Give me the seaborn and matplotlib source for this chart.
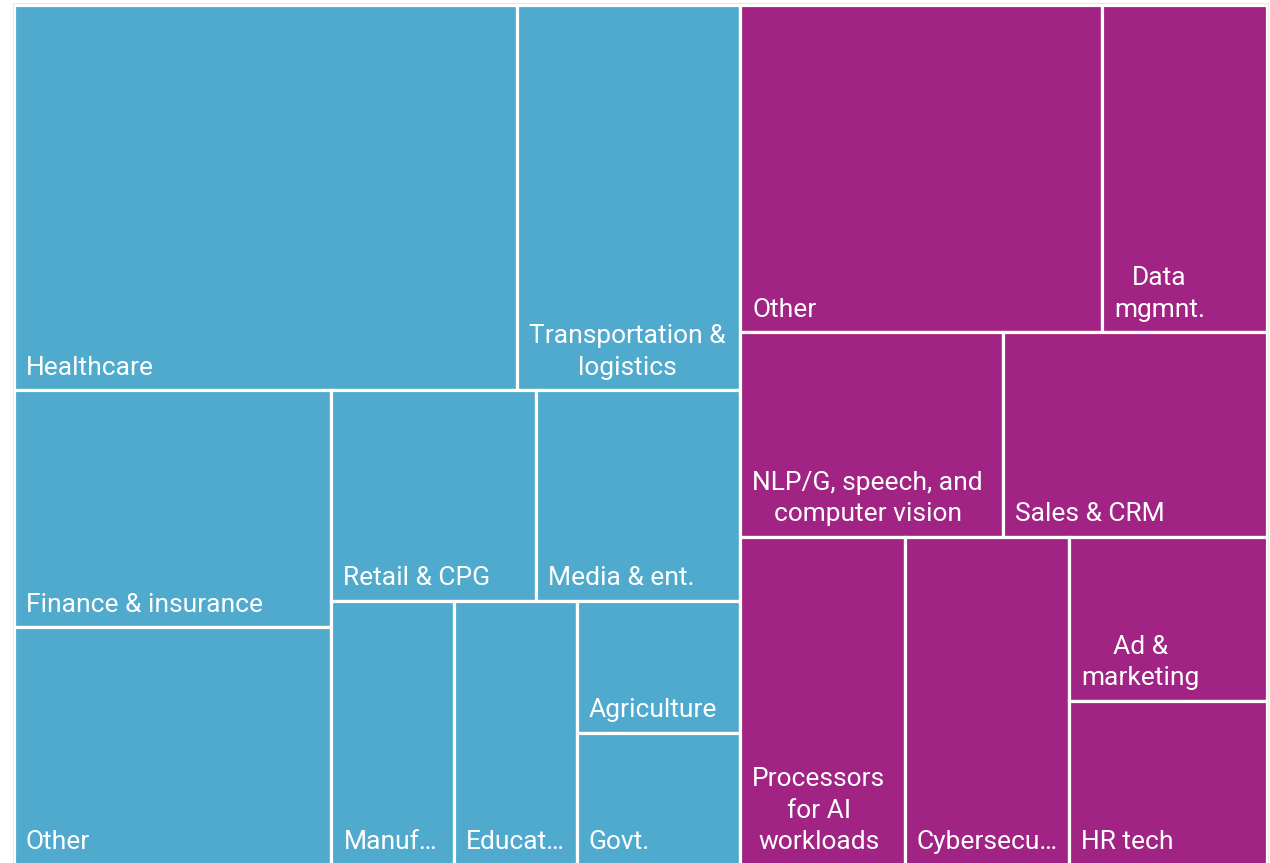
import matplotlib
matplotlib.use("Agg")
import matplotlib.pyplot as plt
from matplotlib.patches import Rectangle
import seaborn as sns

# ---- data (shares, %) ----
industry_labels = ["Healthcare", "Transportation &\nlogistics", "Finance & insurance", "Other",
                   "Retail & CPG", "Media & ent.", "Manuf…", "Educat…", "Agriculture", "Govt."]
industry_values = [18, 8, 7, 7, 4, 4, 3, 3, 2, 2]
industry_rows = [2, 2, 2, 1, 1, 1, 1]          # how many items go in each treemap strip

tech_labels = ["Other", "Data\nmgmnt.", "NLP/G, speech, and\ncomputer vision", "Sales & CRM",
               "Processors\nfor AI\nworkloads", "Cybersecu…", "Ad &\nmarketing", "HR tech"]
tech_values = [11, 5, 5, 5, 5, 5, 3, 3]
tech_rows = [2, 2, 1, 1, 1, 1]

group_values = [sum(industry_values), sum(tech_values)]
group_colors = ["#4FAACE", "#A12383"]

sns.set_theme(style="white")
plt.rcParams["font.family"] = ["Roboto", "DejaVu Sans"]

W_PX, H_PX = 1270, 863
fig = plt.figure(figsize=(W_PX / 100, H_PX / 100), dpi=100)
left, top, right, bottom = 13.5, 4.5, 1266.5, H_PX + 1.5
ax = fig.add_axes([left / W_PX, 1 - bottom / H_PX, (right - left) / W_PX, (bottom - top) / H_PX])
W, H = right - left, bottom - top
ax.set_xlim(0, W)
ax.set_ylim(H, 0)
ax.axis("off")


def strip_layout(values, rows, x, y, w, h):
    """Lay out values in strips along the shorter side of the remaining rectangle."""
    rects = []
    total = float(sum(values))
    i = 0
    for n in rows:
        chunk = values[i:i + n]
        s = float(sum(chunk))
        if w >= h:  # column at left, items stacked vertically
            tw = w * s / total
            yy = y
            for v in chunk:
                hh = h * v / s
                rects.append((x, yy, tw, hh))
                yy += hh
            x += tw
            w -= tw
        else:       # row on top, items side by side
            th = h * s / total
            xx = x
            for v in chunk:
                ww = w * v / s
                rects.append((xx, y, ww, th))
                xx += ww
            y += th
            h -= th
        total -= s
        i += n
    return rects


group_rects = strip_layout(group_values, [1, 1], 0, 0, W, H)
series = [(industry_labels, industry_values, industry_rows),
          (tech_labels, tech_values, tech_rows)]

for (labels, values, rows), (gx, gy, gw, gh), color in zip(series, group_rects, group_colors):
    for label, (x, y, w, h) in zip(labels, strip_layout(values, rows, gx, gy, gw, gh)):
        ax.add_patch(Rectangle((x, y), w, h, facecolor=color, edgecolor="white",
                               linewidth=2.3, clip_on=False))
        ax.text(x + 12, y + h - 15.5, label, color="white", fontsize=19.0,
                ha="left", va="baseline", multialignment="center", linespacing=1.39)

# faint outer frame
fig.patches.append(Rectangle((12.5 / W_PX, -0.01), 1255 / W_PX, 1 - 3.5 / H_PX + 0.01,
                             transform=fig.transFigure, fill=False,
                             edgecolor="#e8e8e8", linewidth=0.8))

fig.savefig("out.png", dpi=100)
